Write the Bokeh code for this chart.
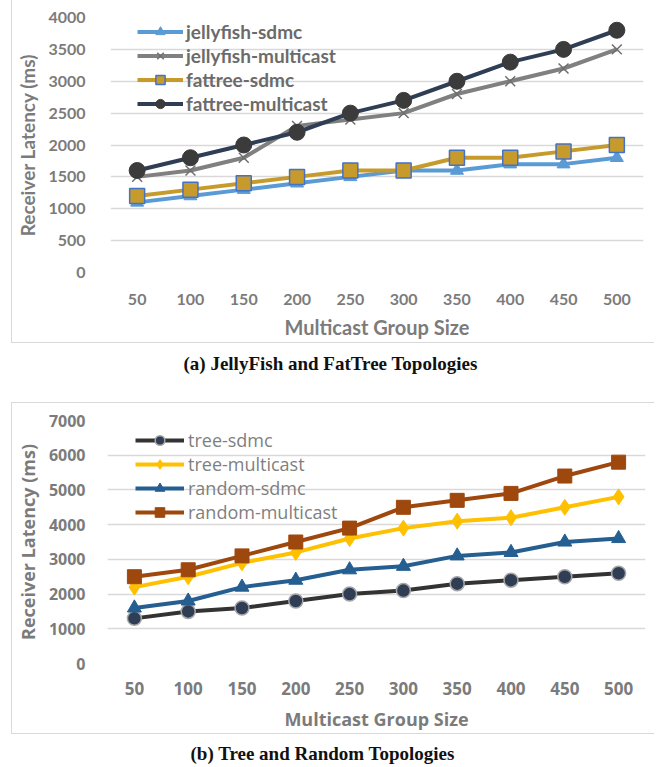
from bokeh.plotting import figure
from bokeh.models import FactorRange, Range1d, FixedTicker, Title, Legend, Spacer
from bokeh.layouts import column, row
from bokeh.embed import file_html
from bokeh.resources import INLINE

sizes = ["50", "100", "150", "200", "250", "300", "350", "400", "450", "500"]

jellyfish_sdmc = [1100, 1200, 1300, 1400, 1500, 1600, 1600, 1700, 1700, 1800]
jellyfish_multicast = [1500, 1600, 1800, 2300, 2400, 2500, 2800, 3000, 3200, 3500]
fattree_sdmc = [1200, 1300, 1400, 1500, 1600, 1600, 1800, 1800, 1900, 2000]
fattree_multicast = [1600, 1800, 2000, 2200, 2500, 2700, 3000, 3300, 3500, 3800]

tree_sdmc = [1300, 1500, 1600, 1800, 2000, 2100, 2300, 2400, 2500, 2600]
tree_multicast = [2200, 2500, 2900, 3200, 3600, 3900, 4100, 4200, 4500, 4800]
random_sdmc = [1600, 1800, 2200, 2400, 2700, 2800, 3100, 3200, 3500, 3600]
random_multicast = [2500, 2700, 3100, 3500, 3900, 4500, 4700, 4900, 5400, 5800]

yticks_a = [0, 500, 1000, 1500, 2000, 2500, 3000, 3500, 4000]
yticks_b = [0, 1000, 2000, 3000, 4000, 5000, 6000, 7000]

GRAY = "#7b7b7b"
BOX = "1px solid #d9d9d9"


def base_fig(width, height, ymax, yticks, font, left, right, top, bottom, styles):
    p = figure(width=width, height=height, output_backend="svg", toolbar_location=None,
               x_range=FactorRange(*sizes, range_padding=0), y_range=Range1d(0, ymax),
               min_border_left=left, min_border_right=right, min_border_top=top,
               min_border_bottom=bottom, styles=styles)
    p.outline_line_color = None
    p.xgrid.grid_line_color = None
    p.ygrid.grid_line_color = "#d9d9d9"
    p.ygrid.grid_line_width = 1.5
    p.yaxis.ticker = FixedTicker(ticks=yticks)
    for ax in (p.xaxis[0], p.yaxis[0]):
        ax.axis_line_color = None
        ax.major_tick_line_color = None
        ax.minor_tick_line_color = None
        ax.major_label_text_font = font
        ax.major_label_text_font_style = "bold"
        ax.major_label_text_color = GRAY
        ax.axis_label_text_font = font
        ax.axis_label_text_font_style = "bold"
        ax.axis_label_text_color = GRAY
    p.xaxis.axis_label = "Multicast Group Size"
    p.yaxis.axis_label = "Receiver Latency (ms)"
    return p


def caption_fig(text, height, top, offset, standoff):
    c = figure(width=654, height=height, output_backend="svg", toolbar_location=None,
               x_axis_type=None, y_axis_type=None, min_border_left=0, min_border_right=0,
               min_border_top=top, min_border_bottom=0)
    c.outline_line_color = None
    c.add_layout(Title(text=text, align="left", offset=offset, text_font="Liberation Serif",
                       text_font_style="bold", text_font_size="19px", text_color="#111111",
                       standoff=standoff), "above")
    return c


# ---------- (a) ----------
pa = base_fig(643, 343, 4000, yticks_a, "Lato", 98, 12, 17, 71,
              {"border-left": BOX, "border-bottom": BOX})
pa.xaxis.major_label_text_font_size = "16px"
pa.yaxis.major_label_text_font_size = "16px"
pa.xaxis.axis_label_text_font_size = "20px"
pa.yaxis.axis_label_text_font_size = "19px"
pa.xaxis.major_label_standoff = 15
pa.xaxis.axis_label_standoff = 7
pa.yaxis.major_label_standoff = 19
pa.yaxis.axis_label_standoff = 6

r1 = pa.line(sizes, jellyfish_sdmc, line_color="#5b9bd5", line_width=4)
m1 = pa.scatter(sizes, jellyfish_sdmc, marker="triangle", size=13, fill_color="#5b9bd5", line_color="#5b9bd5")
r2 = pa.line(sizes, jellyfish_multicast, line_color="#808080", line_width=4)
m2 = pa.scatter(sizes, jellyfish_multicast, marker="x", size=14, line_color="#6f6f6f", line_width=1.5)
r3 = pa.line(sizes, fattree_sdmc, line_color="#c79a2c", line_width=4)
m3 = pa.scatter(sizes, fattree_sdmc, marker="square", size=15, fill_color="#c79a2c", line_color="#4472c4", line_width=1.5)
r4 = pa.line(sizes, fattree_multicast, line_color="#2f3e55", line_width=4)
m4 = pa.scatter(sizes, fattree_multicast, marker="circle", size=16, fill_color="#3b3b3b", line_color="#3b3b3b")

leg_a = Legend(items=[("jellyfish-sdmc", [r1, m1]), ("jellyfish-multicast", [r2, m2]),
                      ("fattree-sdmc", [r3, m3]), ("fattree-multicast", [r4, m4])],
               location=(27, 157), glyph_width=46, glyph_height=23, spacing=1,
               label_standoff=3, padding=0, margin=0, border_line_color=None,
               background_fill_alpha=0, label_text_font="Lato", label_text_font_style="bold",
               label_text_font_size="19px", label_text_color="#6b6b6b")
pa.add_layout(leg_a, "center")

cap_a = caption_fig("(a) JellyFish and FatTree Topologies", 59, 31, 183, 2)

# ---------- (b) ----------
pb = base_fig(643, 332, 7000, yticks_b, "Open Sans", 91, 10, 17, 72,
              {"border-left": BOX, "border-bottom": BOX, "border-top": BOX})
pb.xaxis.major_label_text_font_size = "17px"
pb.yaxis.major_label_text_font_size = "16px"
pb.xaxis.axis_label_text_font_size = "18px"
pb.yaxis.axis_label_text_font_size = "18px"
pb.xaxis.major_label_standoff = 12
pb.xaxis.axis_label_standoff = 9
pb.yaxis.major_label_standoff = 16
pb.yaxis.axis_label_standoff = 6

s1 = pb.line(sizes, tree_sdmc, line_color="#333333", line_width=4)
n1 = pb.scatter(sizes, tree_sdmc, marker="circle", size=14, fill_color="#2f3e55", line_color="#a6a6a6", line_width=1.5)
s2 = pb.line(sizes, tree_multicast, line_color="#ffc000", line_width=4)
n2 = pb.scatter(sizes, tree_multicast, marker="diamond", size=16, fill_color="#ffc000", line_color="#ffc000")
s3 = pb.line(sizes, random_sdmc, line_color="#255e91", line_width=4)
n3 = pb.scatter(sizes, random_sdmc, marker="triangle", size=14, fill_color="#255e91", line_color="#255e91")
s4 = pb.line(sizes, random_multicast, line_color="#9e480e", line_width=4)
n4 = pb.scatter(sizes, random_multicast, marker="square", size=14, fill_color="#9e480e", line_color="#9e480e")

leg_b = Legend(items=[("tree-sdmc", [s1, n1]), ("tree-multicast", [s2, n2]),
                      ("random-sdmc", [s3, n3]), ("random-multicast", [s4, n4])],
               location=(28, 139), glyph_width=49, glyph_height=24, spacing=0,
               label_standoff=4, padding=0, margin=0, border_line_color=None,
               background_fill_alpha=0, label_text_font="Open Sans",
               label_text_font_size="18px", label_text_color="#7f7f7f")
pb.add_layout(leg_b, "center")

cap_b = caption_fig("(b) Tree and Random Topologies", 40, 30, 190, 1)

layout = column(row(Spacer(width=11), pa, spacing=0), cap_a,
                row(Spacer(width=11), pb, spacing=0), cap_b, spacing=0)
open("out.html", "w").write(file_html(layout, INLINE))
